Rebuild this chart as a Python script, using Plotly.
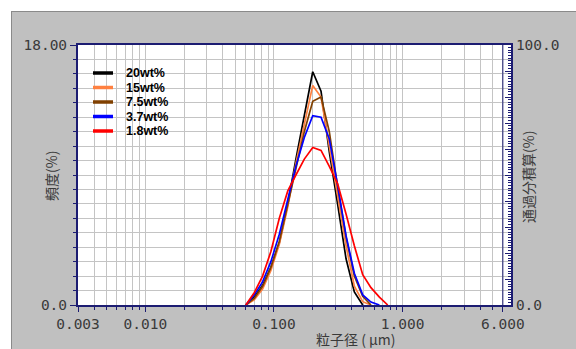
import plotly.graph_objects as go
import math

# ---------------- data ----------------
size_um = [0.0604, 0.0702, 0.0815, 0.0946, 0.110, 0.128, 0.148, 0.172, 0.200,
           0.232, 0.269, 0.312, 0.363, 0.421, 0.489, 0.567, 0.659, 0.765]

series_names = ["20wt%", "15wt%", "7.5wt%", "3.7wt%", "1.8wt%"]

freq_20wt = [0, 0.55, 1.35, 2.6, 4.3, 7.0, 10.1, 13.1, 16.15, 14.8, 10.6, 7.0, 3.2, 0.9, 0, None, None, None]
freq_15wt = [0, 0.35, 1.1, 2.4, 4.2, 6.8, 9.8, 12.6, 15.2, 14.4, 11.0, 7.6, 4.1, 1.3, 0.23, 0, None, None]
freq_7_5wt = [0, 0.45, 1.3, 2.6, 4.4, 7.0, 9.6, 12.0, 14.1, 14.4, 12.0, 8.2, 4.7, 2.0, 0.6, 0, None, None]
freq_3_7wt = [0, 0.7, 1.6, 3.0, 4.9, 7.2, 9.6, 11.6, 13.1, 13.0, 11.5, 8.3, 4.8, 2.2, 0.7, 0.2, 0, None]
freq_1_8wt = [0, 0.85, 2.0, 3.7, 6.0, 7.9, 9.0, 10.1, 10.9, 10.7, 9.6, 8.4, 6.3, 4.1, 2.1, 1.2, 0.55, 0]

series_values = [freq_20wt, freq_15wt, freq_7_5wt, freq_3_7wt, freq_1_8wt]
series_colors = ["#000000", "#ff8040", "#804000", "#0000ff", "#ff0000"]

x_tick_vals = [0.003, 0.01, 0.1, 1, 6]
x_tick_text = ["0.003", "0.010", "0.100", "1.000", "6.000"]
y_tick_vals = [0, 18]
y_tick_text = ["0.0", "18.00"]
y2_tick_vals = [0, 10, 20, 30, 40, 50, 60, 70, 80, 90, 100]
y2_tick_text = ["0.0", "", "", "", "", "", "", "", "", "", "100.0"]

# ---------------- layout geometry ----------------
W, H = 576, 349
L, R, T, B = 78, 511, 45, 305   # plot area pixel box
NAVY = "#1c1c72"
GRID = "#c4c4c4"
TXT = "#3a3a3a"


def px(xp):
    return (xp - L) / (R - L)


def py(yp):
    return (B - yp) / (B - T)


x_minor = []
for d in range(-3, 1):
    for m in range(1, 10):
        v = round(m * 10 ** d, 6)
        if 0.003 <= v <= 6:
            x_minor.append(v)

fig = go.Figure()
for name, vals, col in zip(series_names, series_values, series_colors):
    fig.add_trace(go.Scatter(x=size_um, y=vals, mode="lines", name=name,
                             line=dict(color=col, width=1.7), showlegend=False,
                             connectgaps=False))
fig.add_trace(go.Scatter(x=[0.01], y=[None], yaxis="y2", showlegend=False,
                         mode="lines", hoverinfo="skip"))

x_lo = math.log10(0.003)
x_hi = x_lo + (R - L) / 128.7

tick_font = dict(family="DejaVu Sans Mono", size=14.5, color=TXT)

fig.update_layout(
    width=W, height=H,
    margin=dict(l=L, r=W - R, t=T, b=H - B),
    paper_bgcolor="#c0c0c0",
    plot_bgcolor="#ffffff",
    showlegend=False,
    xaxis=dict(type="log", range=[x_lo, x_hi],
               tickvals=x_tick_vals, ticktext=x_tick_text,
               ticks="outside", ticklen=5, tickcolor=NAVY, tickwidth=1,
               tickfont=tick_font,
               showgrid=True, gridcolor=GRID, gridwidth=1,
               minor=dict(tickvals=x_minor, ticks="outside", ticklen=3,
                          tickcolor=NAVY, showgrid=True, gridcolor=GRID, gridwidth=1),
               showline=True, linecolor=NAVY, linewidth=2, mirror=True,
               zeroline=False),
    yaxis=dict(range=[0, 18], tickvals=y_tick_vals, ticktext=y_tick_text,
               ticks="outside", ticklen=6, tickcolor=NAVY, tickfont=tick_font,
               showgrid=True, gridcolor=GRID,
               minor=dict(dtick=1, tick0=0, ticks="outside", ticklen=3,
                          tickcolor=NAVY, showgrid=True, gridcolor=GRID),
               showline=True, linecolor=NAVY, linewidth=2, mirror=False,
               zeroline=False),
    yaxis2=dict(range=[0, 100], overlaying="y", side="right",
                tickvals=y2_tick_vals, ticktext=y2_tick_text,
                ticks="inside", ticklen=6, tickcolor=NAVY, tickfont=tick_font,
                minor=dict(dtick=1, tick0=0, ticks="inside", ticklen=3, tickcolor=NAVY),
                showgrid=False, zeroline=False,
                showline=True, linecolor=NAVY, linewidth=2),
)

shapes = []
# white strips at top and left, with grey border line
shapes.append(dict(type="rect", xref="paper", yref="paper", layer="below",
                   x0=px(-5), x1=px(W + 5), y0=py(11), y1=py(-5),
                   fillcolor="#ffffff", line=dict(width=0)))
shapes.append(dict(type="rect", xref="paper", yref="paper", layer="below",
                   x0=px(-5), x1=px(11), y0=py(H + 5), y1=py(-5),
                   fillcolor="#ffffff", line=dict(width=0)))
shapes.append(dict(type="line", xref="paper", yref="paper", layer="below",
                   x0=px(11), x1=px(W + 5), y0=py(11.5), y1=py(11.5),
                   line=dict(color="#8a8a8a", width=1)))
shapes.append(dict(type="line", xref="paper", yref="paper", layer="below",
                   x0=px(11.5), x1=px(11.5), y0=py(11), y1=py(H + 5),
                   line=dict(color="#8a8a8a", width=1)))
# inner right boundary at the last x tick
shapes.append(dict(type="line", xref="x", yref="paper", layer="above",
                   x0=x_tick_vals[-1], x1=x_tick_vals[-1], y0=0, y1=1,
                   line=dict(color=NAVY, width=1)))

annotations = []
# manual legend
for i, (name, col) in enumerate(zip(series_names, series_colors)):
    yy = py(73 + 14.5 * i)
    shapes.append(dict(type="line", xref="paper", yref="paper", layer="above",
                       x0=px(93), x1=px(113), y0=yy, y1=yy,
                       line=dict(color=col, width=3.5)))
    annotations.append(dict(xref="paper", yref="paper", x=px(124), y=yy,
                            xanchor="left", yanchor="middle", showarrow=False,
                            text="<b>" + name + "</b>",
                            font=dict(family="Liberation Sans", size=12.5, color="#000000")))

annotations.append(dict(xref="paper", yref="paper", x=px(51), y=py(176),
                        text="頻度(%)", textangle=-90, showarrow=False,
                        xanchor="center", yanchor="middle",
                        font=dict(family="Noto Sans CJK JP", size=14, color=TXT)))
annotations.append(dict(xref="paper", yref="paper", x=px(528), y=py(177),
                        text="通過分積算(%)", textangle=-90, showarrow=False,
                        xanchor="center", yanchor="middle",
                        font=dict(family="Noto Sans CJK JP", size=14, color=TXT)))
annotations.append(dict(xref="paper", yref="paper", x=px(356), y=py(339),
                        text="粒子径 ( μm)", showarrow=False,
                        xanchor="center", yanchor="middle",
                        font=dict(family="Noto Sans CJK JP", size=14, color=TXT)))

fig.update_layout(shapes=shapes, annotations=annotations)
fig.write_html("out.html")
